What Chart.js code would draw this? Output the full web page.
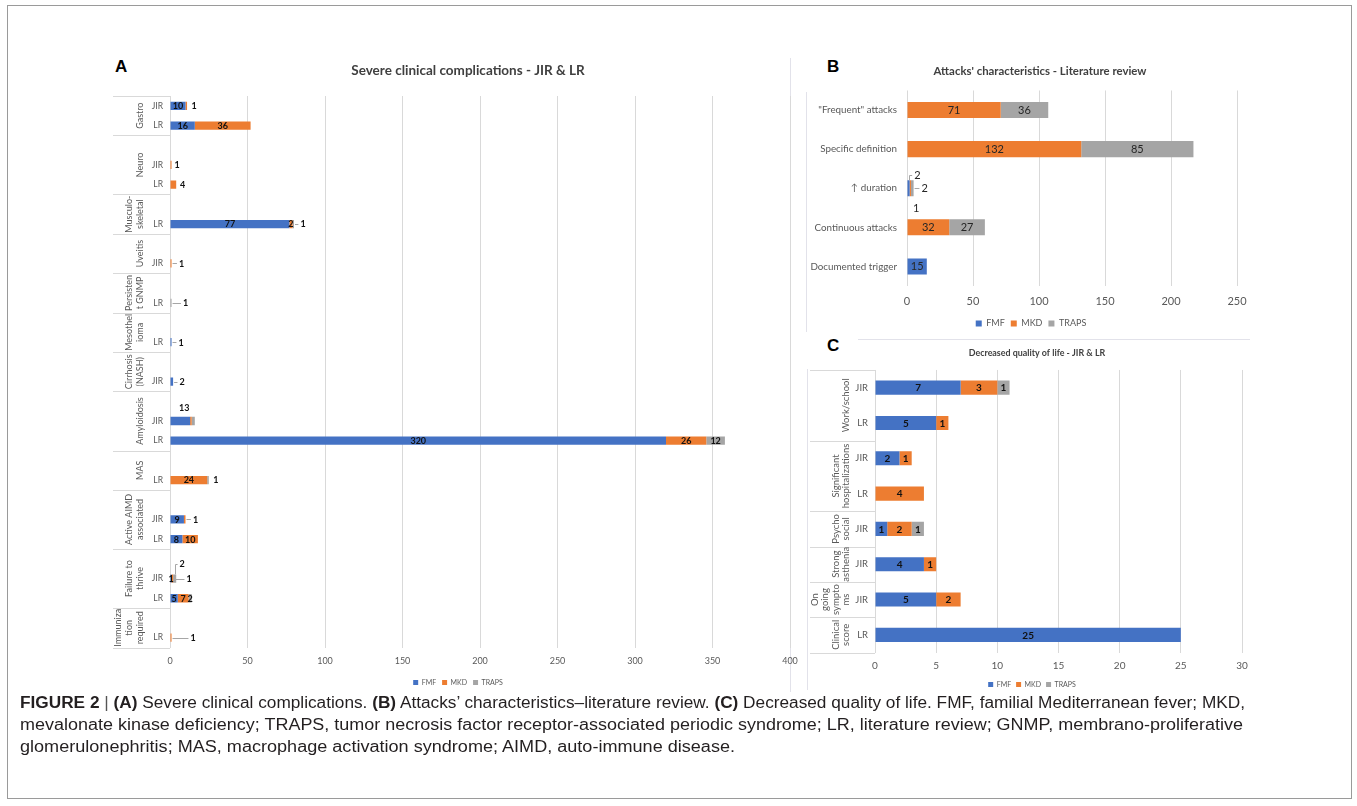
<!DOCTYPE html>
<html>
<head>
<meta charset="utf-8">
<script src="https://cdn.jsdelivr.net/npm/chart.js@4.4.1/dist/chart.umd.min.js"></script>
<style>
  html, body { margin: 0; padding: 0; background: #fff; }
  body { width: 1357px; height: 806px; position: relative; overflow: hidden; font-family: Lato, "Liberation Sans", Arial, sans-serif; }
  .frame { position: absolute; left: 7px; top: 5px; width: 1345px; height: 794px; border: 1px solid #9a9a9a; box-sizing: border-box; }
  .panel { position: absolute; }
  .panel canvas { display: block; }
  .tag { position: absolute; font: bold 17px "Liberation Sans", Arial, sans-serif; line-height: 17px; color: #000; }
  .rule { position: absolute; background: #e2e2ea; }
  #caption { position: absolute; left: 20px; top: 692px; font-family: "Liberation Sans Narrow", "Liberation Sans", Arial, sans-serif; font-size: 16px; line-height: 22px; color: #231f20; white-space: nowrap; }
  #caption .ln { height: 22px; }
  #caption .ln span { display: inline-block; transform-origin: 0 0; }
  #caption .bar { color: #555; }
</style>
</head>
<body>
<div class="frame"></div>

<div class="rule" style="left:790px;top:58px;width:1px;height:634px;"></div>
<div class="rule" style="left:806px;top:92px;width:1px;height:240px;"></div>
<div class="rule" style="left:807px;top:369px;width:1px;height:321px;"></div>
<div class="rule" style="left:858px;top:339px;width:392px;height:1px;"></div>

<div class="tag" style="left:115px;top:58px;">A</div>
<div class="tag" style="left:827px;top:58px;">B</div>
<div class="tag" style="left:827px;top:337px;">C</div>

<div class="panel" style="left:110px;top:55px;"><canvas id="chartA" width="700" height="641"></canvas></div>
<div class="panel" style="left:806px;top:55px;"><canvas id="chartB" width="468" height="283"></canvas></div>
<div class="panel" style="left:806px;top:340px;"><canvas id="chartC" width="462" height="358"></canvas></div>

<div id="caption">
  <div class="ln" data-w="1225"><span><b>FIGURE 2</b> <span class="bar">|</span> <b>(A)</b> Severe clinical complications. <b>(B)</b> Attacks’ characteristics–literature review. <b>(C)</b> Decreased quality of life. FMF, familial Mediterranean fever; MKD,</span></div>
  <div class="ln" data-w="1223"><span>mevalonate kinase deficiency; TRAPS, tumor necrosis factor receptor-associated periodic syndrome; LR, literature review; GNMP, membrano-proliferative</span></div>
  <div class="ln" data-w="715"><span>glomerulonephritis; MAS, macrophage activation syndrome; AIMD, auto-immune disease.</span></div>
</div>

<script>
// ---- Series colours ----
const BLUE = '#4472C4', ORANGE = '#ED7D31', GREY = '#A5A5A5';

// ---- Panel A: severe clinical complications (JIR & LR) ----
const A_SUB = ['JIR','LR','','JIR','LR','','LR','','JIR','','LR','','LR','','JIR','','JIR','LR','','LR','','JIR','LR','','JIR','LR','','LR'];
const A_FMF   = [10,16,null,null,null,null,77,null,null,null,null,null,1,null,2,null,13,320,null,null,null,9,8,null,1,5,null,null];
const A_MKD   = [1,36,null,1,4,null,2,null,1,null,null,null,null,null,null,null,1,26,null,24,null,1,10,null,1,7,null,1];
const A_TRAPS = [null,null,null,null,null,null,1,null,null,null,1,null,null,null,null,null,2,12,null,1,null,null,null,null,2,2,null,null];
const A_GROUP_SIZES = [2,3,2,2,2,2,2,3,2,3,3,2];
const A_GROUP_LABELS = [['Gastro'],['Neuro'],['Musculo-','skeletal'],['Uveitis'],['Persisten','t GNMP'],['Mesothel','ioma'],['Cirrhosis','(NASH)'],['Amyloidosis'],['MAS'],['Active AIMD','associated'],['Failure to','thrive'],['Immuniza','tion','required']];
const A_TICKS = [0, 400, 50];

// ---- Panel B: attacks' characteristics (literature review) ----
const B_CATS  = ['"Frequent" attacks','Specific definition','↑ duration','Continuous attacks','Documented trigger'];
const B_FMF   = [null,null,2,null,15];
const B_MKD   = [71,132,1,32,null];
const B_TRAPS = [36,85,2,27,null];
const B_TICKS = [0, 250, 50];

// ---- Panel C: decreased quality of life (JIR & LR) ----
const C_SUB   = ['JIR','LR','JIR','LR','JIR','JIR','JIR','LR'];
const C_FMF   = [7,5,2,null,1,4,5,25];
const C_MKD   = [3,1,1,4,2,1,2,null];
const C_TRAPS = [1,null,null,null,1,null,null,null];
const C_GROUP_SIZES = [2,2,1,1,1,1];
const C_GROUP_LABELS = [['Work/school'],['Significant','hospitalizations'],['Psycho','social'],['Strong','asthenia'],['On','going','sympto','ms'],['Clinical','score']];
const C_TICKS = [0, 30, 5];

const FONT = 'Lato, "Liberation Sans", Arial, sans-serif';

function buildGroups(sizes, labels) {
  let start = 0;
  return sizes.map((n, i) => { const g = { start, count: n, lines: labels[i] }; start += n; return g; });
}

// Slide the title and legend boxes sideways after layout.
const boxShift = {
  id: 'boxShift',
  afterLayout(chart, args, opts) {
    const t = chart.titleBlock, l = chart.legend;
    if (t && opts.title) { t.left += opts.title; t.right += opts.title; }
    if (l && opts.legend) { l.left += opts.legend; l.right += opts.legend; }
  }
};

// Two-level category axis: rotated group names with separator rules, placed from the y scale.
const groupLabels = {
  id: 'groupLabels',
  afterDraw(chart, args, opts) {
    const y = chart.scales.y, ctx = chart.ctx;
    const n = chart.data.labels.length;
    const slot = (y.bottom - y.top) / n;
    ctx.save();
    ctx.strokeStyle = opts.lineColor;
    ctx.lineWidth = 1;
    const edges = new Set();
    opts.groups.forEach(g => { edges.add(g.start); edges.add(g.start + g.count); });
    edges.forEach(i => {
      const py = Math.round(y.getPixelForValue(Math.min(i, n - 1)) + (i >= n ? slot / 2 : -slot / 2)) + 0.5;
      ctx.beginPath(); ctx.moveTo(opts.left, py); ctx.lineTo(y.right, py); ctx.stroke();
    });
    ctx.fillStyle = opts.color;
    ctx.font = opts.fontSize + 'px ' + FONT;
    ctx.textAlign = 'center';
    ctx.textBaseline = 'middle';
    opts.groups.forEach(g => {
      const cy = (y.getPixelForValue(g.start) + y.getPixelForValue(g.start + g.count - 1)) / 2;
      g.lines.forEach((t, k) => {
        const x = opts.lastX - (g.lines.length - 1 - k) * opts.gap;
        ctx.save(); ctx.translate(x, cy); ctx.rotate(-Math.PI / 2); ctx.fillText(t, 0, 0); ctx.restore();
      });
    });
    ctx.restore();
  }
};

// Segment values: centred on each segment, or moved aside with an optional leader line.
const valueLabels = {
  id: 'valueLabels',
  afterDatasetsDraw(chart, args, opts) {
    const ctx = chart.ctx;
    ctx.save();
    ctx.font = (opts.bold ? 'bold ' : '') + opts.fontSize + 'px ' + FONT;
    ctx.textAlign = 'center';
    ctx.textBaseline = 'middle';
    const moves = opts.moves || {};
    chart.data.datasets.forEach((ds, di) => {
      const meta = chart.getDatasetMeta(di);
      meta.data.forEach((bar, i) => {
        const v = ds.data[i];
        if (v == null || v === 0) return;
        const m = moves[i + ':' + di];
        if (m && m.hide) return;
        const txt = String(v);
        let x = (bar.x + bar.base) / 2, yy = bar.y;
        if (m) { x = bar.x + (m.dx || 0); yy = bar.y + (m.dy || 0); }
        if (m && m.line) {
          const w = ctx.measureText(txt).width;
          ctx.strokeStyle = opts.lineColor;
          ctx.lineWidth = 1;
          ctx.beginPath();
          const ly = Math.round(yy) + 0.5;
          if (m.dy) {
            const sx = Math.round((bar.x + bar.base) / 2) + 0.5;
            const sy = m.dy < 0 ? bar.y - bar.height / 2 : bar.y + bar.height / 2;
            ctx.moveTo(sx, sy); ctx.lineTo(sx, ly); ctx.lineTo(x - w / 2 - 2, ly);
          } else {
            ctx.moveTo(bar.x + 1, ly); ctx.lineTo(x - w / 2 - 2, ly);
          }
          ctx.stroke();
        }
        ctx.fillStyle = opts.color;
        ctx.fillText(txt, x, yy + 0.5);
      });
    });
    ctx.restore();
  }
};

function stackedBar(id, p) {
  return new Chart(document.getElementById(id), {
    type: 'bar',
    data: {
      labels: p.labels,
      datasets: [
        { label: 'FMF',   data: p.fmf,   backgroundColor: BLUE },
        { label: 'MKD',   data: p.mkd,   backgroundColor: ORANGE },
        { label: 'TRAPS', data: p.traps, backgroundColor: GREY }
      ]
    },
    options: {
      indexAxis: 'y',
      responsive: false,
      animation: false,
      events: [],
      layout: { padding: p.padding },
      datasets: { bar: { categoryPercentage: 1, barPercentage: p.barPct, borderWidth: 0 } },
      scales: {
        x: {
          stacked: true, min: p.ticks[0], max: p.ticks[1],
          ticks: { stepSize: p.ticks[2], color: '#595959', font: { size: p.xFont, family: FONT }, padding: p.xPad, maxRotation: 0 },
          grid: { color: '#D9D9D9', drawTicks: false },
          border: { display: false },
          afterFit: s => { s.height = p.xH; }
        },
        y: {
          stacked: true,
          ticks: { autoSkip: false, color: '#595959', font: { size: p.yFont, family: FONT }, padding: p.yPad },
          grid: { display: false, drawTicks: false },
          border: { display: false },
          afterFit: s => { s.width = p.yW; }
        }
      },
      plugins: {
        legend: {
          position: 'bottom',
          labels: { boxWidth: p.box, boxHeight: p.box, padding: p.legPad, color: '#595959', font: { size: p.legFont, family: FONT } }
        },
        title: { display: true, text: p.title, color: '#404040', font: { size: p.titleFont, weight: 'bold', family: FONT }, padding: p.titlePad },
        tooltip: { enabled: false },
        boxShift: p.shift,
        groupLabels: p.groups || false,
        valueLabels: p.values
      }
    },
    plugins: [boxShift, groupLabels, valueLabels]
  });
}

stackedBar('chartA', {
  labels: A_SUB, fmf: A_FMF, mkd: A_MKD, traps: A_TRAPS, ticks: A_TICKS,
  title: 'Severe clinical complications - JIR & LR', titleFont: 13.5, titlePad: { top: 7.9, bottom: 16.9 },
  padding: { left: 0, right: 20, top: 0, bottom: 0 }, shift: { title: 18, legend: 8 },
  barPct: 0.42, xFont: 9, xPad: 8, xH: 25.5, yFont: 8.5, yPad: 7, yW: 60,
  box: 5, legPad: 6, legFont: 7,
  groups: { groups: buildGroups(A_GROUP_SIZES, A_GROUP_LABELS), left: 3, lastX: 30, gap: 11, fontSize: 9, color: '#595959', lineColor: '#D9D9D9' },
  values: {
    bold: true, fontSize: 9, color: '#111', lineColor: '#A6A6A6',
    moves: {
      '0:1': { dx: 7 }, '3:1': { dx: 5.5 }, '4:1': { dx: 6.5 },
      '6:2': { dx: 9, line: true }, '8:1': { dx: 10, line: true }, '10:2': { dx: 14, line: true },
      '12:0': { dx: 9.5, line: true }, '14:0': { dx: 9, line: true },
      '16:0': { dx: -6, dy: -13 }, '16:1': { hide: true }, '16:2': { hide: true },
      '19:2': { dx: 7 }, '21:1': { dx: 10, line: true },
      '24:1': { dx: 16, line: true }, '24:2': { dx: 6, dy: -15, line: true },
      '27:1': { dx: 21.5, line: true }
    }
  }
});

stackedBar('chartB', {
  labels: B_CATS, fmf: B_FMF, mkd: B_MKD, traps: B_TRAPS, ticks: B_TICKS,
  title: "Attacks' characteristics - Literature review", titleFont: 11.4, titlePad: { top: 9.2, bottom: 12.6 },
  padding: { left: 0, right: 37, top: 0, bottom: 0 }, shift: { title: 18.5, legend: 9.5 },
  barPct: 0.41, xFont: 11, xPad: 9, xH: 27, yFont: 9.8, yPad: 10, yW: 101,
  box: 6, legPad: 6, legFont: 9,
  values: {
    bold: false, fontSize: 11, color: '#262626', lineColor: '#A6A6A6',
    moves: { '2:0': { dx: 7.7, dy: -13, line: true }, '2:1': { dx: 5.3, dy: 20 }, '2:2': { dx: 11, line: true } }
  }
});

stackedBar('chartC', {
  labels: C_SUB, fmf: C_FMF, mkd: C_MKD, traps: C_TRAPS, ticks: C_TICKS,
  title: 'Decreased quality of life - JIR & LR', titleFont: 8.9, titlePad: { top: 7.7, bottom: 11.6 },
  padding: { left: 0, right: 26, top: 0, bottom: 0 }, shift: { title: 13, legend: 8 },
  barPct: 0.40, xFont: 10, xPad: 7.5, xH: 23.5, yFont: 9.5, yPad: 7, yW: 69,
  box: 5, legPad: 5, legFont: 7,
  groups: { groups: buildGroups(C_GROUP_SIZES, C_GROUP_LABELS), left: 4, lastX: 40, gap: 10.3, fontSize: 9.5, color: '#595959', lineColor: '#D9D9D9' },
  values: { bold: true, fontSize: 10, color: '#111', lineColor: '#A6A6A6' }
});

// Caption: condense each line to its set width.
document.querySelectorAll('#caption .ln').forEach(ln => {
  const span = ln.firstElementChild;
  const w = span.getBoundingClientRect().width;
  span.style.transform = 'scaleX(' + (Number(ln.dataset.w) / w).toFixed(4) + ')';
});
</script>
</body>
</html>
